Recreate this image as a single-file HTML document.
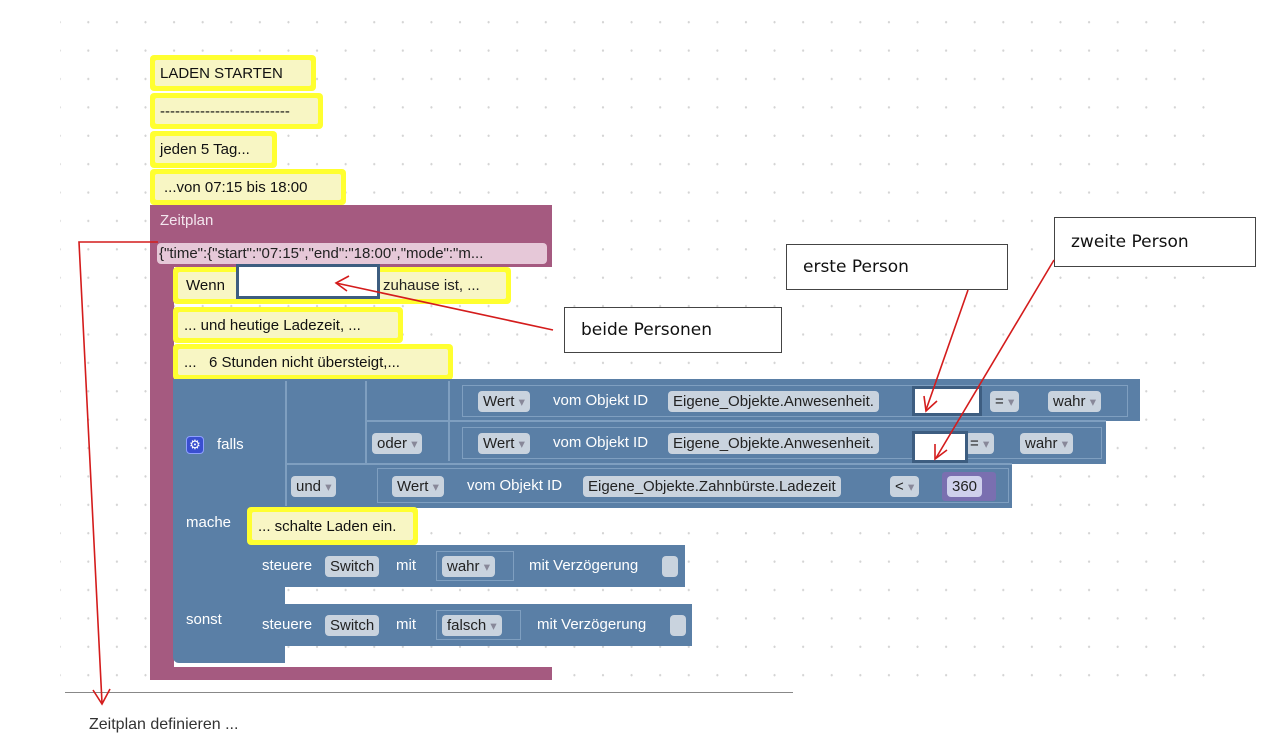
<!DOCTYPE html>
<html><head><meta charset="utf-8"><style>
*{margin:0;padding:0;box-sizing:border-box}
body{width:1271px;height:746px;overflow:hidden;background:#fff;position:relative;font-family:"Liberation Sans",sans-serif;font-size:14px}
.grid{position:absolute;left:60px;top:0;width:1150px;height:690px;background-image:radial-gradient(circle,#d4d4d4 1px,transparent 1.3px);background-size:28.6px 28.4px;background-position:14px 8px}
.a{position:absolute}
.y{position:absolute;background:#ffff30;border-radius:4px}
.y span{position:absolute;left:5px;top:5px;right:5px;bottom:5px;background:#f8f6c4;color:#111;padding-left:5px;display:flex;align-items:center;white-space:nowrap;font-size:15px;border-radius:2px}
.pu{background:#a55a80}
.bl{background:#5a7fa6}
.f{position:absolute;background:#c9d3de;color:#222;border-radius:4px;height:21px;line-height:21px;padding:0 5px;white-space:nowrap;font-size:15px}
.w{position:absolute;color:#fff;white-space:nowrap;font-size:15px}
.ol{position:absolute;border:1px solid #7f9fc0}
.box{position:absolute;border:1.5px solid #444;background:#fff;font-family:"DejaVu Sans",sans-serif;font-size:17px;color:#111;padding-left:16px;display:flex;align-items:center}
</style></head><body>
<div class="grid"></div>

<div class="y" style="left:150px;top:55px;width:166px;height:36px"><span>LADEN STARTEN</span></div>
<div class="y" style="left:150px;top:93px;width:173px;height:36px"><span>--------------------------</span></div>
<div class="y" style="left:150px;top:131px;width:127px;height:37px"><span>jeden 5 Tag...</span></div>
<div class="y" style="left:150px;top:169px;width:196px;height:36px"><span style="padding-left:9px">...von 07:15 bis 18:00</span></div>

<div class="a pu" style="left:150px;top:205px;width:402px;height:62px"></div>
<div class="a pu" style="left:150px;top:205px;width:24px;height:475px;border-radius:0 0 0 6px"></div>
<div class="a pu" style="left:150px;top:667px;width:402px;height:13px"></div>
<div class="w" style="left:160px;top:212px;font-size:15px;color:#f3e6ee">Zeitplan</div>
<div class="a" style="left:157px;top:243px;width:390px;height:21px;background:#e6c8d8;border-radius:4px;color:#222;font-size:15px;line-height:21px;padding-left:2px;white-space:nowrap;overflow:hidden">{"time":{"start":"07:15","end":"18:00","mode":"m...</div>

<div class="y" style="left:173px;top:267px;width:338px;height:37px"><span style="padding-left:8px">Wenn</span></div>
<div class="a" style="left:383px;top:277px;color:#222;font-size:15px">zuhause ist, ...</div>
<div class="a" style="left:236px;top:264px;width:144px;height:35px;border:3px solid #3d5d80;background:#fff"></div>
<div class="y" style="left:173px;top:307px;width:230px;height:36px"><span style="padding-left:6px">... und heutige Ladezeit, ...</span></div>
<div class="y" style="left:173px;top:344px;width:280px;height:36px"><span style="padding-left:6px">...&nbsp;&nbsp;&nbsp;6 Stunden nicht übersteigt,...</span></div>

<div class="a bl" style="left:173px;top:379px;width:967px;height:42px"></div>
<div class="a bl" style="left:173px;top:420px;width:933px;height:44px"></div>
<div class="a bl" style="left:173px;top:463px;width:839px;height:45px"></div>
<div class="a bl" style="left:173px;top:507px;width:112px;height:156px;border-radius:0 0 0 6px"></div>
<div class="ol" style="left:285px;top:381px;width:1px;height:125px"></div>
<div class="ol" style="left:365px;top:381px;width:1px;height:82px"></div>
<div class="ol" style="left:448px;top:381px;width:1px;height:80px"></div>
<div class="ol" style="left:366px;top:420px;width:740px;height:1px"></div>
<div class="ol" style="left:286px;top:463px;width:726px;height:1px"></div>
<div class="ol" style="left:462px;top:385px;width:666px;height:32px"></div>
<div class="ol" style="left:462px;top:427px;width:640px;height:32px"></div>
<div class="ol" style="left:377px;top:468px;width:632px;height:35px"></div>

<div class="a" style="left:186px;top:436px;width:18px;height:18px;background:#3a4fd0;border-radius:4px;border:1px solid #8ea0ff;color:#fff;font-size:13px;line-height:16px;text-align:center">⚙</div>
<div class="w" style="left:217px;top:436px">falls</div>
<div class="w" style="left:186px;top:514px">mache</div>
<div class="w" style="left:186px;top:611px">sonst</div>

<div class="f" style="left:478px;top:391px">Wert <small style="color:#889">▾</small></div>
<div class="w" style="left:553px;top:392px">vom Objekt ID</div>
<div class="f" style="left:668px;top:391px">Eigene_Objekte.Anwesenheit.</div>
<div class="a" style="left:912px;top:386px;width:70px;height:30px;background:#fff;border:3px solid #3d5d80"></div>
<div class="f" style="left:990px;top:391px">= <small style="color:#889">▾</small></div>
<div class="f" style="left:1048px;top:391px">wahr <small style="color:#889">▾</small></div>

<div class="f" style="left:372px;top:433px">oder <small style="color:#889">▾</small></div>
<div class="f" style="left:478px;top:433px">Wert <small style="color:#889">▾</small></div>
<div class="w" style="left:553px;top:434px">vom Objekt ID</div>
<div class="f" style="left:668px;top:433px">Eigene_Objekte.Anwesenheit.</div>
<div class="f" style="left:965px;top:433px">= <small style="color:#889">▾</small></div>
<div class="a" style="left:912px;top:431px;width:56px;height:32px;background:#fff;border:3px solid #3d5d80"></div>
<div class="f" style="left:1020px;top:433px">wahr <small style="color:#889">▾</small></div>

<div class="f" style="left:291px;top:476px">und <small style="color:#889">▾</small></div>
<div class="f" style="left:392px;top:476px">Wert <small style="color:#889">▾</small></div>
<div class="w" style="left:467px;top:477px">vom Objekt ID</div>
<div class="f" style="left:583px;top:476px">Eigene_Objekte.Zahnbürste.Ladezeit</div>
<div class="f" style="left:890px;top:476px">&lt; <small style="color:#889">▾</small></div>
<div class="a" style="left:942px;top:472px;width:54px;height:29px;background:#7a6fb0;border-radius:3px"></div>
<div class="f" style="left:947px;top:476px;background:#cfd0ec">360</div>

<div class="y" style="left:247px;top:507px;width:171px;height:38px"><span style="padding-left:6px">... schalte Laden ein.</span></div>
<div class="a bl" style="left:248px;top:545px;width:437px;height:42px"></div>
<div class="a bl" style="left:248px;top:604px;width:444px;height:42px"></div>
<div class="w" style="left:262px;top:557px">steuere</div>
<div class="f" style="left:325px;top:556px">Switch</div>
<div class="w" style="left:396px;top:557px">mit</div>
<div class="ol" style="left:436px;top:551px;width:78px;height:30px"></div>
<div class="f" style="left:442px;top:556px">wahr <small style="color:#889">▾</small></div>
<div class="w" style="left:529px;top:557px">mit Verzögerung</div>
<div class="f" style="left:662px;top:556px;width:16px;padding:0"></div>
<div class="w" style="left:262px;top:616px">steuere</div>
<div class="f" style="left:325px;top:615px">Switch</div>
<div class="w" style="left:396px;top:616px">mit</div>
<div class="ol" style="left:436px;top:610px;width:85px;height:30px"></div>
<div class="f" style="left:442px;top:615px">falsch <small style="color:#889">▾</small></div>
<div class="w" style="left:537px;top:616px">mit Verzögerung</div>
<div class="f" style="left:670px;top:615px;width:16px;padding:0"></div>

<div class="a" style="left:65px;top:692px;width:728px;height:1px;background:#888"></div>
<div class="a" style="left:89px;top:716px;font-size:16px;color:#333">Zeitplan definieren ...</div>

<div class="box" style="left:564px;top:307px;width:218px;height:46px">beide Personen</div>
<div class="box" style="left:786px;top:244px;width:222px;height:46px">erste Person</div>
<div class="box" style="left:1054px;top:217px;width:202px;height:50px">zweite Person</div>

<svg class="a" style="left:0;top:0" width="1271" height="746">
<g stroke="#d41c1c" stroke-width="1.6" fill="none">
<polyline points="158,242 79,242 102,703"/>
<polyline points="93,690 102,704 110,689"/>
<line x1="553" y1="330" x2="336" y2="283"/>
<polyline points="349,276 336,283 347,291"/>
<line x1="968" y1="290" x2="926" y2="410"/>
<polyline points="924,396 926,411 937,401"/>
<line x1="1054" y1="260" x2="936" y2="458"/>
<polyline points="935,444 935,459 947,450"/>
</g></svg>
</body></html>
